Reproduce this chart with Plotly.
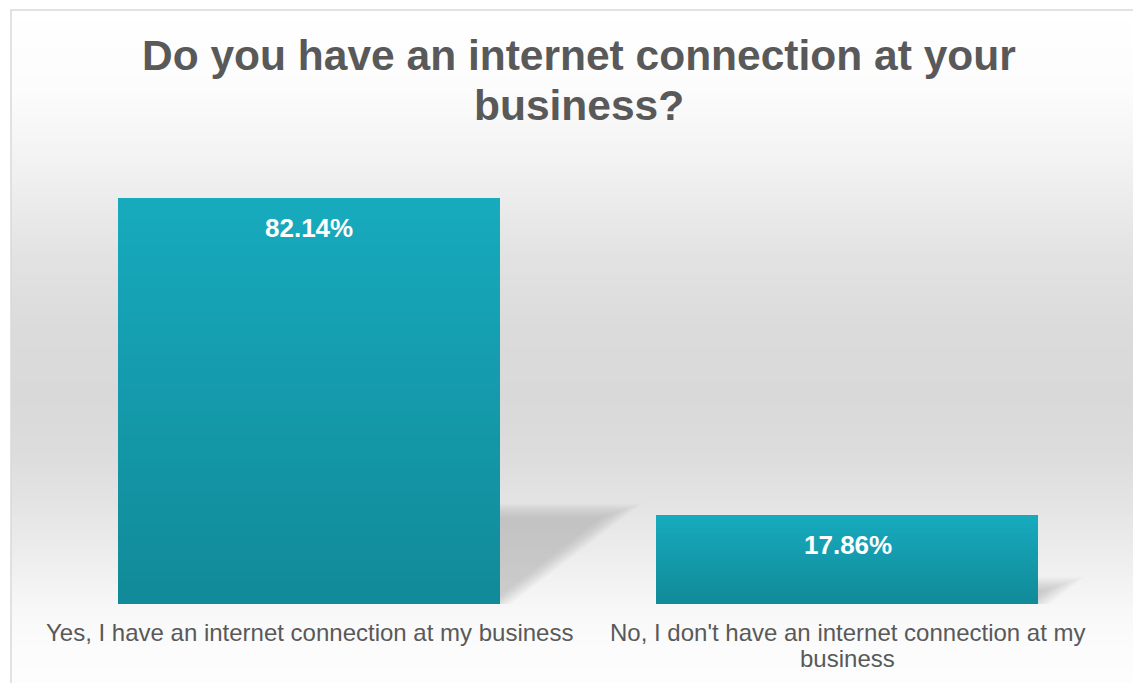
import numpy as np
import plotly.graph_objects as go

# ---- data ----
categories = [
    "Yes, I have an internet connection at my business",
    "No, I don't have an internet connection at my<br>business",
]
shares = [82.14, 17.86]
title_lines = ["Do you have an internet connection at your", "business?"]

# ---- layout geometry (pixels) ----
W, H = 1133, 683
ML, MR, MT, MB = 40, 16, 160, 79
PL, PR, PT, PB = ML, W - MR, MT, H - MB
Y_MAX = 90
X_RANGE = [-0.5, 1.5]
BAR_W = 0.707
KX = (PR - PL) / (X_RANGE[1] - X_RANGE[0])   # px per x unit
KY = (PB - PT) / Y_MAX                        # px per y unit

TEXT_GRAY = "#595959"
FONT = "Liberation Sans, Arial, sans-serif"


def paper_x(px):
    return (px - PL) / (PR - PL)


def paper_y(py):
    return (PB - py) / (PB - PT)


fig = go.Figure()

# vertical gradient bars built from stacked slices
N_SLICES = 36
top_rgb = np.array([23, 170, 190])
bot_rgb = np.array([17, 138, 152])
for k in range(N_SLICES):
    t = (k + 0.5) / N_SLICES
    c = bot_rgb + (top_rgb - bot_rgb) * t
    col = "rgb(%d,%d,%d)" % tuple(np.round(c).astype(int))
    fig.add_trace(go.Bar(
        x=[0, 1],
        y=[v / N_SLICES for v in shares],
        width=BAR_W,
        marker=dict(color=col, line=dict(color=col, width=1)),
        hoverinfo="skip",
        showlegend=False,
    ))

shapes = []

# chart background gradient
stops_y = [10, 90, 150, 200, 260, 330, 400, 460, 510, 560, 610, 650, 690]
stops_g = [255, 252, 244, 236, 226, 219, 217, 221, 229, 238, 248, 252, 253]
step = 3
for py in range(10, 690, step):
    g = int(round(np.interp(py + step / 2, stops_y, stops_g)))
    shapes.append(dict(
        type="rect", xref="paper", yref="paper", layer="below",
        x0=paper_x(11), x1=paper_x(1145),
        y0=paper_y(py + step + 1), y1=paper_y(py),
        fillcolor="rgb(%d,%d,%d)" % (g, g, g), line=dict(width=0),
    ))

# soft floor shadow cast to the right of each bar
SHADOW_RISE = 0.23
SHADOW_RUN = 0.30
BLUR_STEPS = np.linspace(-7, 7, 15)
for i, v in enumerate(shares):
    h_px = v * KY
    Hs = SHADOW_RISE * h_px
    Ds = SHADOW_RUN * h_px
    Ls = np.hypot(Hs, Ds)
    x_right = i + BAR_W / 2

    def to_data(dx_px, dy_px):
        return x_right + dx_px / KX, dy_px / KY

    for d in BLUR_STEPS:
        top = Hs - d
        if top <= 0:
            continue
        tip = (top * Ds - d * Ls) / Hs
        bot = -d * Ls / Hs
        pts = [(-60, 0), (bot, 0), (tip, top), (-60, top)]
        pts = [to_data(a, b) for a, b in pts]
        path = "M " + " L ".join("%.5f,%.5f" % p for p in pts) + " Z"
        shapes.append(dict(
            type="path", xref="x", yref="y", layer="below", path=path,
            fillcolor="rgb(120,120,120)", opacity=0.023, line=dict(width=0),
        ))

# chart border
shapes.append(dict(
    type="rect", xref="paper", yref="paper", layer="above",
    x0=paper_x(11), x1=paper_x(1160), y0=paper_y(700), y1=paper_y(10),
    line=dict(color="#d9d9d9", width=1.5), fillcolor="rgba(0,0,0,0)",
))

annotations = []
# title, two lines
for j, line in enumerate(title_lines):
    annotations.append(dict(
        text=line, xref="paper", yref="paper",
        x=paper_x(579), y=paper_y(56 + 50 * j),
        xanchor="center", yanchor="middle", showarrow=False,
        font=dict(family=FONT, size=42.5, color=TEXT_GRAY, weight="bold"),
    ))

# value labels inside the top of each bar
for i, v in enumerate(shares):
    annotations.append(dict(
        text=f"{v:.2f}%", xref="x", yref="y", x=i, y=v, yshift=-29,
        xanchor="center", yanchor="middle", showarrow=False,
        font=dict(family=FONT, size=26, color="white", weight="bold"),
    ))

# category labels under the bars, one annotation per text line
for i, cat in enumerate(categories):
    for j, line in enumerate(cat.split("<br>")):
        annotations.append(dict(
            text=line, xref="x", yref="paper", x=i,
            y=paper_y(632 + 26 * j),
            xanchor="center", yanchor="middle", showarrow=False,
            font=dict(family=FONT, size=24, color=TEXT_GRAY),
        ))

fig.update_layout(
    width=W, height=H,
    margin=dict(l=ML, r=MR, t=MT, b=MB),
    barmode="stack",
    bargap=0,
    paper_bgcolor="white",
    plot_bgcolor="rgba(0,0,0,0)",
    shapes=shapes,
    annotations=annotations,
    showlegend=False,
    xaxis=dict(
        range=X_RANGE, tickvals=[0, 1], showticklabels=False,
        showgrid=False, zeroline=False, showline=False, ticks="",
        fixedrange=True,
    ),
    yaxis=dict(range=[0, Y_MAX], visible=False, fixedrange=True),
)

fig.write_html("out.html", config={"displayModeBar": False})
